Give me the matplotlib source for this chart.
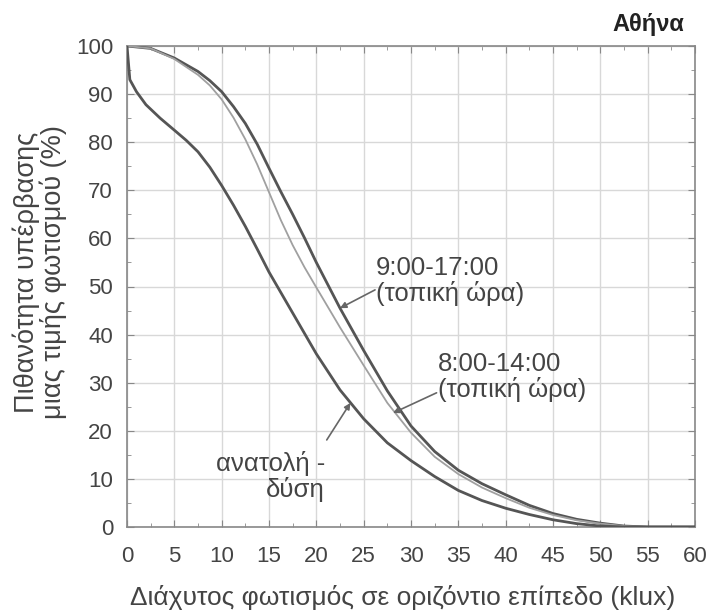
import matplotlib
matplotlib.use("Agg")
import matplotlib.pyplot as plt
from matplotlib.ticker import MultipleLocator

plt.rcParams['font.family'] = ['Liberation Sans', 'DejaVu Sans']

# Data
x_917 = [0, 2.5, 5, 7.5, 8.75, 10, 11.25, 12.5, 13.75, 15, 16.25, 17.5, 18.75, 20,
         22.5, 25, 27.5, 30, 32.5, 35, 37.5, 40, 42.5, 45, 47.5, 50, 52.5, 55, 60]
y_917 = [100, 99.5, 97.5, 94.7, 92.8, 90.5, 87.4, 83.9, 79.6, 74.6, 69.7, 65, 60.1, 55,
         45.5, 36.7, 28.3, 21, 15.7, 11.8, 9, 6.7, 4.5, 2.8, 1.6, 0.8, 0.2, 0, 0]

x_814 = [0, 2.5, 5, 7.5, 8.75, 10, 11.25, 12.5, 13.75, 15, 16.25, 17.5, 18.75, 20,
         22.5, 25, 27.5, 30, 32.5, 35, 37.5, 40, 42.5, 45, 47.5, 50, 52.5, 55, 60]
y_814 = [100, 99.5, 97.3, 94, 91.8, 88.9, 85.1, 80.6, 75.4, 69.6, 63.8, 58.6, 54.0, 49.8,
         41.5, 33.6, 25.8, 19.6, 14.6, 11, 8.2, 6.0, 4, 2.5, 1.4, 0.7, 0.2, 0, 0]

x_sun = [0, 0.3, 1, 2, 3.5, 5, 6.25, 7.5, 8.75, 10, 11.25, 12.5, 13.75, 15, 17.5,
         20, 22.5, 25, 27.5, 30, 32.5, 35, 37.5, 40, 42.5, 45, 47.5, 50, 52.5, 60]
y_sun = [100, 93, 90.5, 87.8, 85, 82.5, 80.4, 78, 74.8, 71, 66.9, 62.5, 57.8, 53, 44.5,
         36, 28.5, 22.5, 17.5, 13.8, 10.5, 7.6, 5.5, 3.9, 2.6, 1.5, 0.7, 0.2, 0, 0]

x_ticks = [0, 5, 10, 15, 20, 25, 30, 35, 40, 45, 50, 55, 60]
y_ticks = [0, 10, 20, 30, 40, 50, 60, 70, 80, 90, 100]

txt = '#444444'
fig = plt.figure(figsize=(7.11, 6.11), dpi=100)
ax = fig.add_axes([127/711, 84/611, 568/711, 481/611])

ax.plot(x_917, y_917, color='#555555', lw=2.0, zorder=3)
ax.plot(x_814, y_814, color='#a0a0a0', lw=1.3, zorder=3)
ax.plot(x_sun, y_sun, color='#555555', lw=2.0, zorder=3)

ax.set_xlim(0, 60)
ax.set_ylim(0, 100)
ax.set_xticks(x_ticks)
ax.set_yticks(y_ticks)
ax.xaxis.set_minor_locator(MultipleLocator(2.5))
ax.yaxis.set_minor_locator(MultipleLocator(5))
ax.tick_params(which='both', direction='in', top=True, right=True,
               color='#888888', labelcolor=txt, labelsize=16)
ax.tick_params(which='major', length=5)
ax.tick_params(which='minor', length=3)
ax.tick_params(axis='x', which='major', pad=14)
ax.tick_params(axis='y', which='major', pad=10)
ax.grid(True, which='major', color='#d8d8d8', lw=1.0)
for s in ax.spines.values():
    s.set_color('#888888')
    s.set_linewidth(1.2)

fig.text(403/711, 1 - 598/611, 'Διάχυτος φωτισμός σε οριζόντιο επίπεδο (klux)',
         ha='center', va='center', fontsize=19, color=txt)
fig.text(40/711, 1 - 272/611, 'Πιθανότητα υπέρβασης\nμιας τιμής φωτισμού (%)',
         ha='center', va='center', rotation=90, fontsize=19.5, color=txt,
         linespacing=1.0, multialignment='center')
fig.text(684/711, 1 - 25/611, 'Αθήνα', ha='right', va='center', fontsize=17,
         fontweight='bold', color='#222222')

arrow = dict(arrowstyle='-|>', color='#666666', lw=1.2, mutation_scale=9,
             shrinkA=0, shrinkB=0)
ax.annotate('', xy=(22.5, 45.5), xytext=(26.2, 49.3), arrowprops=arrow)
ax.text(26.3, 56.3, '9:00-17:00\n(τοπική ώρα)', ha='left', va='top',
        fontsize=18.5, color=txt, linespacing=1.05)
ax.annotate('', xy=(28.1, 23.7), xytext=(32.7, 27.9), arrowprops=arrow)
ax.text(32.8, 36.3, '8:00-14:00\n(τοπική ώρα)', ha='left', va='top',
        fontsize=18.5, color=txt, linespacing=1.05)
ax.annotate('', xy=(23.6, 25.8), xytext=(21.1, 18.1), arrowprops=arrow)
ax.text(20.9, 15.8, 'ανατολή -\nδύση', ha='right', va='top', multialignment='right',
        fontsize=18.5, color=txt, linespacing=1.05)

fig.savefig('out.png', dpi=100, facecolor='white')
